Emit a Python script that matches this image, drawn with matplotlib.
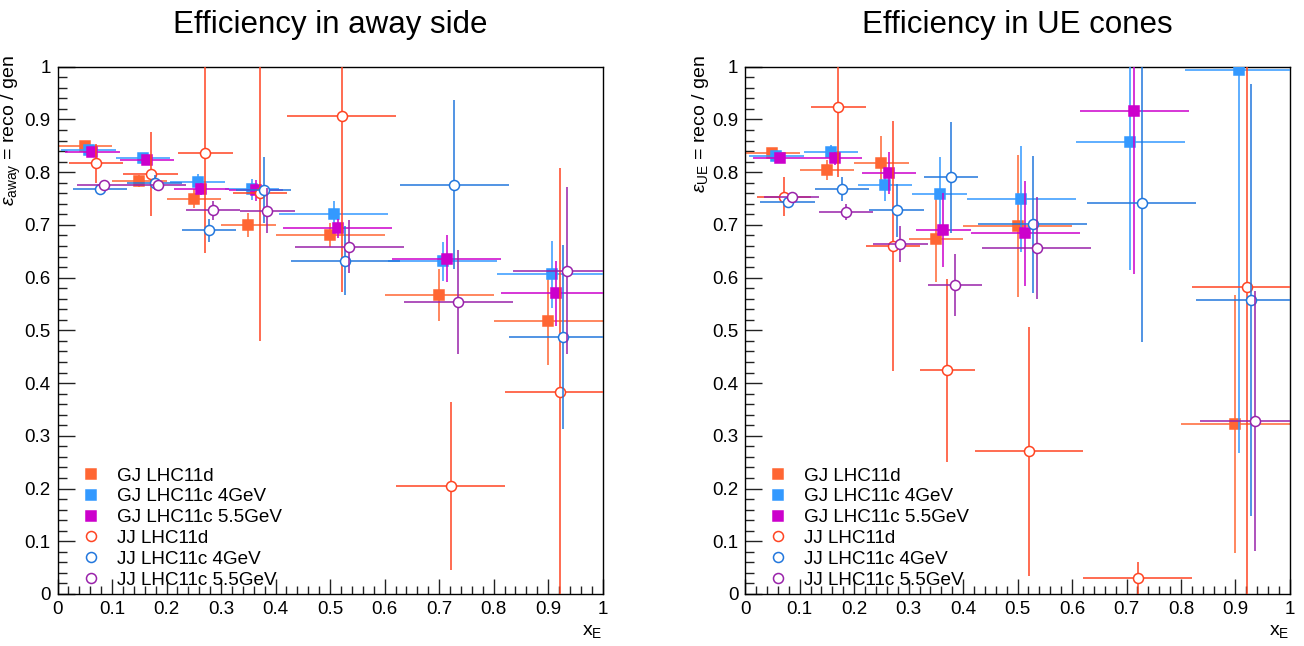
import matplotlib.pyplot as plt
import numpy as np
from matplotlib.lines import Line2D
from matplotlib.ticker import MultipleLocator

plt.rcParams['font.family'] = ['Liberation Sans', 'DejaVu Sans']
plt.rcParams['mathtext.fontset'] = 'custom'
plt.rcParams['mathtext.rm'] = 'Liberation Sans'
plt.rcParams['mathtext.it'] = 'Liberation Sans:italic'

# x_E bins
bin_center = np.array([0.05, 0.15, 0.25, 0.35, 0.5, 0.7, 0.9])
bin_half = np.array([0.05, 0.05, 0.05, 0.05, 0.1, 0.1, 0.1])

labels = ["GJ LHC11d", "GJ LHC11c 4GeV", "GJ LHC11c 5.5GeV",
          "JJ LHC11d", "JJ LHC11c 4GeV", "JJ LHC11c 5.5GeV"]

# efficiency in away side
away_gj_11d = [0.850, 0.783, 0.750, 0.700, 0.681, 0.567, 0.518]
away_gj_11d_err = [0.006, 0.011, 0.018, 0.022, 0.022, 0.050, 0.083]
away_gj_4 = [0.843, 0.827, 0.781, 0.768, 0.721, 0.631, 0.606]
away_gj_4_err = [0.005, 0.008, 0.015, 0.020, 0.024, 0.037, 0.064]
away_gj_55 = [0.838, 0.824, 0.768, 0.766, 0.694, 0.636, 0.570]
away_gj_55_err = [0.006, 0.008, 0.012, 0.020, 0.018, 0.045, 0.062]
away_jj_11d = [0.817, 0.796, 0.836, 0.760, 0.907, 0.205, 0.383]
away_jj_11d_err = [0.037, 0.080, 0.190, 0.281, 0.335, 0.160, 0.425]
away_jj_4 = [0.768, 0.780, 0.690, 0.766, 0.632, 0.776, 0.487]
away_jj_4_err = [0.006, 0.014, 0.022, 0.063, 0.065, 0.160, 0.175]
away_jj_55 = [0.776, 0.776, 0.728, 0.727, 0.659, 0.554, 0.613]
away_jj_55_err = [0.006, 0.008, 0.018, 0.043, 0.050, 0.098, 0.158]

# efficiency in UE cones
ue_gj_11d = [0.836, 0.805, 0.817, 0.673, 0.698, np.nan, 0.322]
ue_gj_11d_err = [0.006, 0.019, 0.051, 0.082, 0.134, np.nan, 0.245]
ue_gj_4 = [0.830, 0.839, 0.775, 0.759, 0.749, 0.858, 0.994]
ue_gj_4_err = [0.005, 0.012, 0.030, 0.070, 0.100, 0.244, 0.727]
ue_gj_55 = [0.826, 0.826, 0.798, 0.690, 0.684, 0.916, np.nan]
ue_gj_55_err = [0.005, 0.012, 0.040, 0.070, 0.100, 0.310, np.nan]
ue_jj_11d = [0.753, 0.924, 0.660, 0.424, 0.271, 0.030, 0.583]
ue_jj_11d_err = [0.037, 0.133, 0.237, 0.173, 0.236, 0.031, 0.600]
ue_jj_4 = [0.743, 0.768, 0.728, 0.790, 0.701, 0.741, 0.558]
ue_jj_4_err = [0.006, 0.022, 0.050, 0.106, 0.130, 0.264, 0.410]
ue_jj_55 = [0.752, 0.725, 0.663, 0.586, 0.656, np.nan, 0.328]
ue_jj_55_err = [0.006, 0.015, 0.034, 0.059, 0.097, np.nan, 0.247]

colors = ['#FF6633', '#3399FF', '#CC00CC', '#FF4422', '#2277DD', '#9922AA']
markers = ['s', 's', 's', 'o', 'o', 'o']
dodge = 0.007

fig = plt.figure(figsize=(13.04, 6.46), dpi=100)
ax1 = fig.add_axes([0.0441, 0.0805, 0.4181, 0.8162])
ax2 = fig.add_axes([0.5715, 0.0805, 0.4177, 0.8162])


def draw(ax, series, title, ylab):
    for i, (y, e) in enumerate(series):
        filled = markers[i] == 's'
        ax.errorbar(bin_center + i * dodge, y, xerr=bin_half, yerr=e,
                    fmt=markers[i], color=colors[i], ecolor=colors[i],
                    elinewidth=1.1, capsize=0,
                    ms=6.5 if filled else 7.2,
                    mfc=colors[i] if filled else 'white',
                    mec=colors[i], mew=1.1, zorder=2 + i)
    ax.set_xlim(0, 1)
    ax.set_ylim(0, 1)
    ax.xaxis.set_major_locator(MultipleLocator(0.1))
    ax.xaxis.set_minor_locator(MultipleLocator(0.02))
    ax.yaxis.set_major_locator(MultipleLocator(0.1))
    ax.yaxis.set_minor_locator(MultipleLocator(0.02))
    ax.xaxis.set_major_formatter(lambda v, p: f"{v:g}")
    ax.yaxis.set_major_formatter(lambda v, p: f"{v:g}")
    ax.tick_params(which='both', direction='in', top=False, right=False,
                   labelsize=13.5, width=1.0, color='#222222')
    ax.tick_params(axis='y', which='major', length=12, pad=5)
    ax.tick_params(axis='y', which='minor', length=6.5)
    ax.tick_params(axis='x', which='major', length=11, pad=5)
    ax.tick_params(axis='x', which='minor', length=6)
    for s in ax.spines.values():
        s.set_linewidth(1.0)
    ax.set_title(title, fontsize=22.5, pad=24)
    ax.set_xlabel(r'$\mathrm{x_E}$', fontsize=14, loc='right')
    ax.xaxis.set_label_coords(1.0, -0.055)
    ax.set_ylabel(ylab, fontsize=14, loc='top')
    ax.yaxis.set_label_coords(-0.0635, 1.022)
    handles = [Line2D([], [], ls='none', marker=markers[i], color=colors[i],
                      mfc=colors[i] if markers[i] == 's' else 'white',
                      mec=colors[i], ms=6.5 if markers[i] == 's' else 7.2, mew=1.1)
               for i in range(6)]
    ax.legend(handles, labels, loc='lower left', bbox_to_anchor=(0.0436, 0.01),
              frameon=False, fontsize=13.6, handlelength=1.0,
              handletextpad=0.88, labelspacing=0.19, borderpad=0,
              borderaxespad=0)


draw(ax1, [(away_gj_11d, away_gj_11d_err), (away_gj_4, away_gj_4_err),
           (away_gj_55, away_gj_55_err), (away_jj_11d, away_jj_11d_err),
           (away_jj_4, away_jj_4_err), (away_jj_55, away_jj_55_err)],
     "Efficiency in away side", r'$\epsilon_{\mathrm{away}}$ = reco / gen')
draw(ax2, [(ue_gj_11d, ue_gj_11d_err), (ue_gj_4, ue_gj_4_err),
           (ue_gj_55, ue_gj_55_err), (ue_jj_11d, ue_jj_11d_err),
           (ue_jj_4, ue_jj_4_err), (ue_jj_55, ue_jj_55_err)],
     "Efficiency in UE cones", r'$\epsilon_{\mathrm{UE}}$ = reco / gen')

fig.savefig("out.png", dpi=100)
